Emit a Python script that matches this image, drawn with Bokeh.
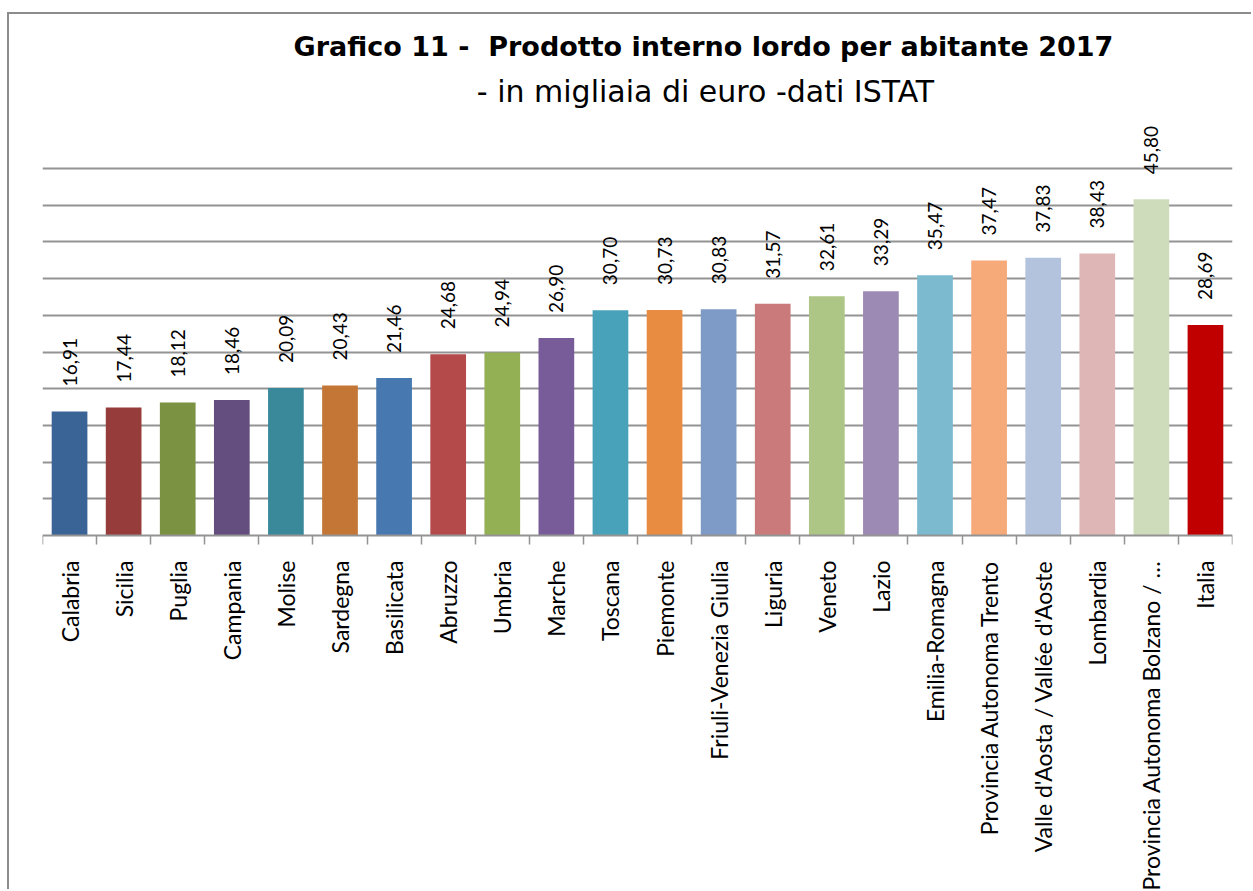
from bokeh.plotting import figure
from bokeh.models import ColumnDataSource, FixedTicker, Range1d, Label
from bokeh.core.properties import value
from bokeh.embed import file_html
from bokeh.resources import INLINE

# Regions ordered by GDP per inhabitant (thousand euro), national average last
regions = [
    "Calabria", "Sicilia", "Puglia", "Campania", "Molise", "Sardegna",
    "Basilicata", "Abruzzo", "Umbria", "Marche", "Toscana", "Piemonte",
    "Friuli-Venezia Giulia", "Liguria", "Veneto", "Lazio", "Emilia-Romagna",
    "Provincia Autonoma Trento", "Valle d'Aosta / Vallée d'Aoste",
    "Lombardia", "Provincia Autonoma Bolzano / …", "Italia",
]
gdp_per_capita = [
    16.91, 17.44, 18.12, 18.46, 20.09, 20.43, 21.46, 24.68, 24.94, 26.90,
    30.70, 30.73, 30.83, 31.57, 32.61, 33.29, 35.47, 37.47, 37.83, 38.43,
    45.80, 28.69,
]
bar_colors = [
    "#3b6496", "#963c3b", "#7a9242", "#634e7f", "#39899b", "#c47636",
    "#4878b0", "#b44a49", "#93b055", "#775c99", "#47a2ba", "#e88c41",
    "#7e9bc8", "#ca7a7b", "#adc585", "#9d8ab4", "#7bbacf", "#f7aa79",
    "#b4c3dd", "#dfb6b6", "#cfdcbb", "#c00000",
]
grid_values = [5, 10, 15, 20, 25, 30, 35, 40, 45, 50]

GRID = "#8c8c8c"
LINE = "#939393"
FONT = "Lato"
TITLE_FONT = "DejaVu Sans"

# canvas geometry (pixels): the plotting frame fills the whole canvas height,
# the category axis is pinned at value 0
W, H = 1244, 877
LEFT, RIGHT = 33, 21
AXIS_Y = 521          # canvas row of value 0
PX_PER_UNIT = 7.34    # vertical pixels per thousand euro

n = len(regions)
px_per_cat = (W - LEFT - RIGHT) / n
y_top = AXIS_Y / PX_PER_UNIT
y_bottom = -(H - AXIS_Y) / PX_PER_UNIT


def data_x(px):
    return (px - LEFT) / px_per_cat


def data_y(py):
    return (AXIS_Y - py) / PX_PER_UNIT


centers = [i + 0.5 for i in range(n)]
value_labels = [f"{v:.2f}".replace(".", ",") for v in gdp_per_capita]

source = ColumnDataSource(dict(x=centers, top=gdp_per_capita,
                               color=bar_colors, label=value_labels))

p = figure(
    width=W, height=H,
    x_range=Range1d(0, n), y_range=Range1d(y_bottom, y_top),
    y_axis_location=None,
    output_backend="svg", toolbar_location=None,
    min_border_left=LEFT, min_border_right=RIGHT,
    min_border_top=0, min_border_bottom=0,
    margin=(12, 0, 0, 7),
    styles={"border-left": f"2px solid {GRID}", "border-top": f"2px solid {GRID}"},
)
p.outline_line_color = None
p.background_fill_color = "white"
p.border_fill_color = "white"

# horizontal gridlines every 5 thousand euro
for g in p.ygrid:
    g.ticker = FixedTicker(ticks=grid_values)
    g.grid_line_color = LINE
    g.grid_line_width = 2
for g in p.xgrid:
    g.grid_line_color = None

p.vbar(x="x", top="top", width=0.66, bottom=0, color="color",
       line_color=None, source=source)

p.text(x="x", y="top", text="label", source=source, angle=1.5708,
       text_align="left", text_baseline="middle", y_offset=-25,
       text_font=value(FONT), text_font_size="19px", text_color="#000000")

# category axis at value 0: labels at bar centres, ticks at category boundaries
ax = p.xaxis[0]
ax.fixed_location = 0
ax.ticker = FixedTicker(ticks=centers, minor_ticks=list(range(n + 1)))
ax.major_label_overrides = {c: name for c, name in zip(centers, regions)}
ax.major_label_orientation = 1.5708
ax.major_label_standoff = 16
ax.major_label_text_font = FONT
ax.major_label_text_font_size = "23px"
ax.major_label_text_color = "#000000"
ax.axis_line_color = LINE
ax.axis_line_width = 2
ax.major_tick_in = 0
ax.major_tick_out = 0
ax.minor_tick_in = 0
ax.minor_tick_out = 9
ax.minor_tick_line_color = LINE
ax.minor_tick_line_width = 1.5

p.add_layout(Label(x=data_x(694), y=data_y(32),
                   text="Grafico 11 -\u00a0 Prodotto interno lordo per abitante 2017",
                   text_align="center", text_baseline="middle",
                   text_font=TITLE_FONT, text_font_style="bold",
                   text_font_size="27px", text_color="#000000"))
p.add_layout(Label(x=data_x(696), y=data_y(77),
                   text="- in migliaia di euro -dati ISTAT",
                   text_align="center", text_baseline="middle",
                   text_font=TITLE_FONT, text_font_size="30px",
                   text_color="#000000"))

open("out.html", "w").write(file_html(p, INLINE))
